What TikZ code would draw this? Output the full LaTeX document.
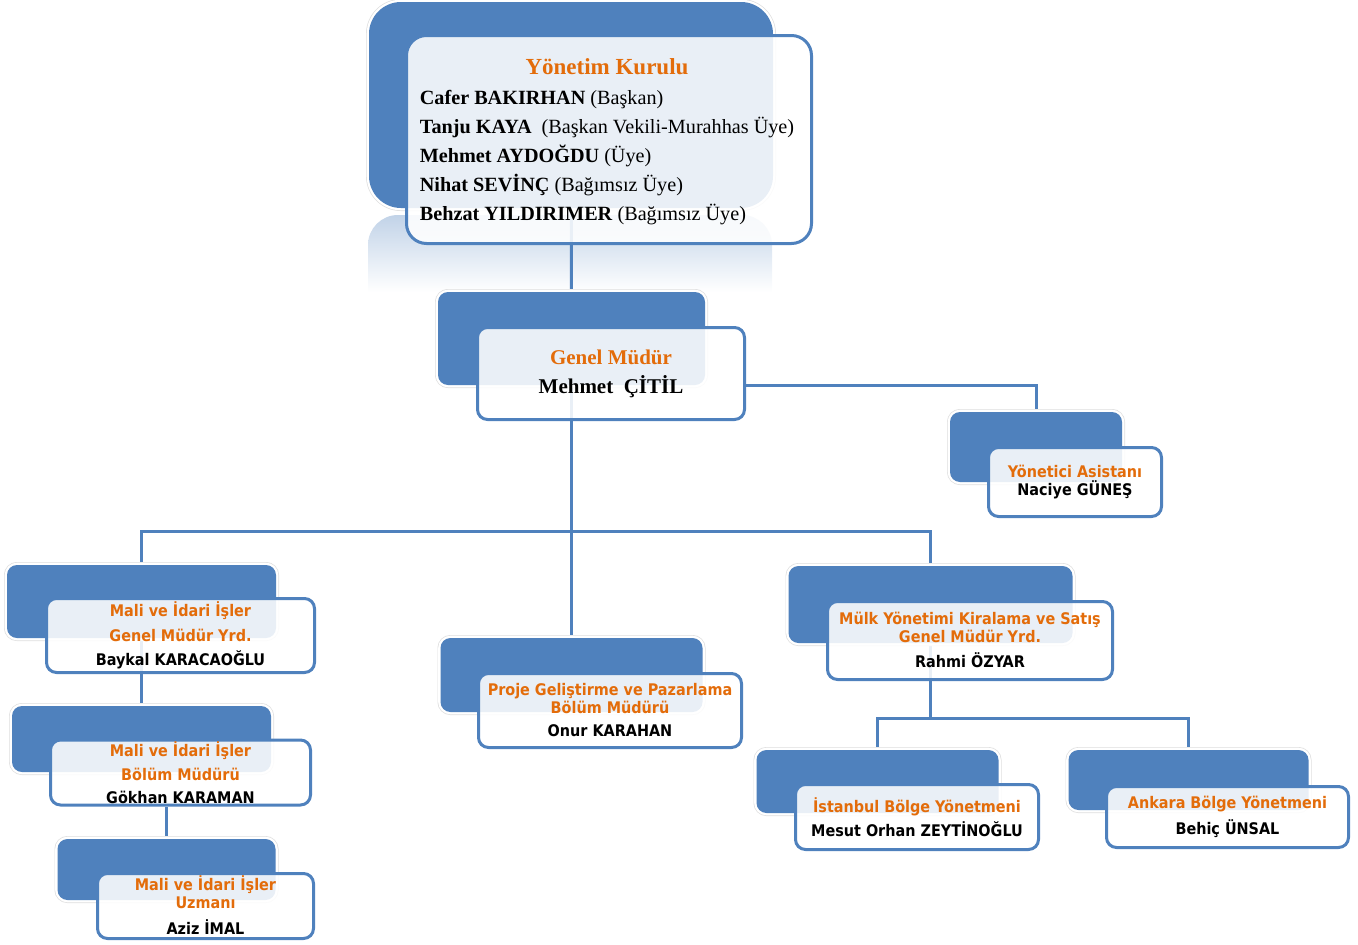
\documentclass[tikz,border=0pt]{standalone}
\usepackage{fontspec}
\setmainfont{Liberation Serif}
\newfontfamily\tahf{DejaVu Sans Condensed}
\usetikzlibrary{backgrounds}
\definecolor{B}{HTML}{4F81BD}
\definecolor{OR}{HTML}{E36C0A}
\newcommand\orng[1]{\textcolor{OR}{#1}}
\tikzset{
  backbox/.style={rounded corners=10pt, fill=B, inner sep=0pt, outer sep=0pt,
    preaction={draw=black!13, line width=6pt},
    preaction={draw=white, line width=4.6pt}},
  frontbox/.style={rounded corners=10pt, draw=B, line width=3pt, fill=white,
    fill opacity=0.88, text opacity=1, inner sep=0pt, align=center,
    font=\tahf\bfseries\fontsize{16}{18}\selectfont},
  link/.style={draw=B, line width=3pt},
}
\begin{document}
\begin{tikzpicture}[x=1pt,y=-1pt]
\useasboundingbox (0,0) rectangle (1358,945);
% back boxes
\node[backbox, rounded corners=32pt, minimum width=404pt, minimum height=206pt] (B1) at (571,105) {};
\node[backbox, minimum width=267pt, minimum height=93pt] (B2) at (571.5,338.5) {};
\node[backbox, minimum width=172pt, minimum height=70pt] (B3) at (1036,447) {};
\node[backbox, minimum width=269pt, minimum height=73pt] (B4) at (141.5,601.5) {};
\node[backbox, minimum width=259pt, minimum height=66pt] (B5) at (141.5,739) {};
\node[backbox, minimum width=218pt, minimum height=61pt] (B6) at (166.5,869.5) {};
\node[backbox, minimum width=262pt, minimum height=74pt] (B7) at (571.5,675) {};
\node[backbox, minimum width=284pt, minimum height=77pt] (B8) at (930.5,604.5) {};
\node[backbox, minimum width=242pt, minimum height=63pt] (B9) at (877.5,781.5) {};
\node[backbox, minimum width=240pt, minimum height=60pt] (B10) at (1188.5,780) {};
% front boxes
\node[frontbox, rounded corners=20pt, minimum width=405pt, minimum height=208pt,
  font=\fontsize{20.2}{29}\selectfont] (F1) at (609,139.5) {%
  \hspace*{-4pt}\raisebox{-2pt}[\height][\depth]{\begin{tabular}{@{}l@{}}
  \multicolumn{1}{@{}c@{}}{\orng{\fontsize{23}{29}\selectfont\bfseries Yönetim Kurulu}}\\[1pt]
  \textbf{Cafer BAKIRHAN} (Başkan)\\
  \textbf{Tanju KAYA}\ \ (Başkan Vekili-Murahhas Üye)\\
  \textbf{Mehmet AYDOĞDU} (Üye)\\
  \textbf{Nihat SEVİNÇ} (Bağımsız Üye)\\
  \textbf{Behzat YILDIRIMER} (Bağımsız Üye)
  \end{tabular}}};
\node[frontbox, minimum width=267pt, minimum height=92pt,
  font=\bfseries\fontsize{21}{29}\selectfont] (F2) at (611,373.5)
  {\orng{Genel Müdür}\\Mehmet\ \ ÇİTİL};
\node[frontbox, minimum width=173pt, minimum height=69pt] (F3) at (1075,482)
  {\orng{Yönetici Asistanı}\\Naciye GÜNEŞ};
\node[frontbox, minimum width=268pt, minimum height=74pt] (F4) at (180.5,635.5)
  {\orng{Mali ve İdari İşler}\\[6.5pt]\orng{Genel Müdür Yrd.}\\[6pt]Baykal KARACAOĞLU};
\node[frontbox, minimum width=260pt, minimum height=65pt] (F5) at (180.5,772.5)
  {\orng{Mali ve İdari İşler}\\[6.5pt]\orng{Bölüm Müdürü}\\[5pt]Gökhan KARAMAN};
\node[frontbox, minimum width=216pt, minimum height=65pt] (F6) at (205.5,906)
  {\raisebox{-2pt}[\height][\depth]{\begin{tabular}{@{}c@{}}\orng{Mali ve İdari İşler}\\\orng{Uzmanı}\\[6pt]Aziz İMAL\end{tabular}}};
\node[frontbox, minimum width=263pt, minimum height=74pt] (F7) at (610,710.5)
  {\orng{Proje Geliştirme ve Pazarlama}\\\orng{Bölüm Müdürü}\\[5pt]Onur KARAHAN};
\node[frontbox, minimum width=285pt, minimum height=78pt] (F8) at (970,640.5)
  {\raisebox{-2pt}[\height][\depth]{\begin{tabular}{@{}c@{}}\orng{Mülk Yönetimi Kiralama ve Satış}\\\orng{Genel Müdür Yrd.}\\[5pt]Rahmi ÖZYAR\end{tabular}}};
\node[frontbox, minimum width=243pt, minimum height=65pt] (F9) at (917,817)
  {\orng{İstanbul Bölge Yönetmeni}\\[5pt]Mesut Orhan ZEYTİNOĞLU};
\node[frontbox, minimum width=242pt, minimum height=61pt] (F10) at (1227.5,817)
  {\orng{Ankara Bölge Yönetmeni}\\[7pt]Behiç ÜNSAL};
\coordinate (bus) at (571,531);
\coordinate (sub) at (930.5,718);
\begin{scope}[on background layer]
  \shade[top color=B!35!white, bottom color=white, rounded corners=30pt]
    (368,292) -- (368,215) -- (772,215) -- (772,292);
  \draw[link] (B1.center) -- (B2.center);
  \draw[link] (B2.center) -- (B7.center);
  \draw[link] (B4.center) -- (B4.center |- bus) -- (B8.center |- bus) -- (B8.center);
  \draw[link] (B2.south -| F2.east) -| (B3.center);
  \draw[link] (B4.center) -- (B5.center);
  \draw[link] (B6.center) -- (B6.center |- F5.south);
  \draw[link] (B8.center) -- (sub);
  \draw[link] (B9.center) |- (sub) -| (B10.center);
\end{scope}
\end{tikzpicture}
\end{document}
